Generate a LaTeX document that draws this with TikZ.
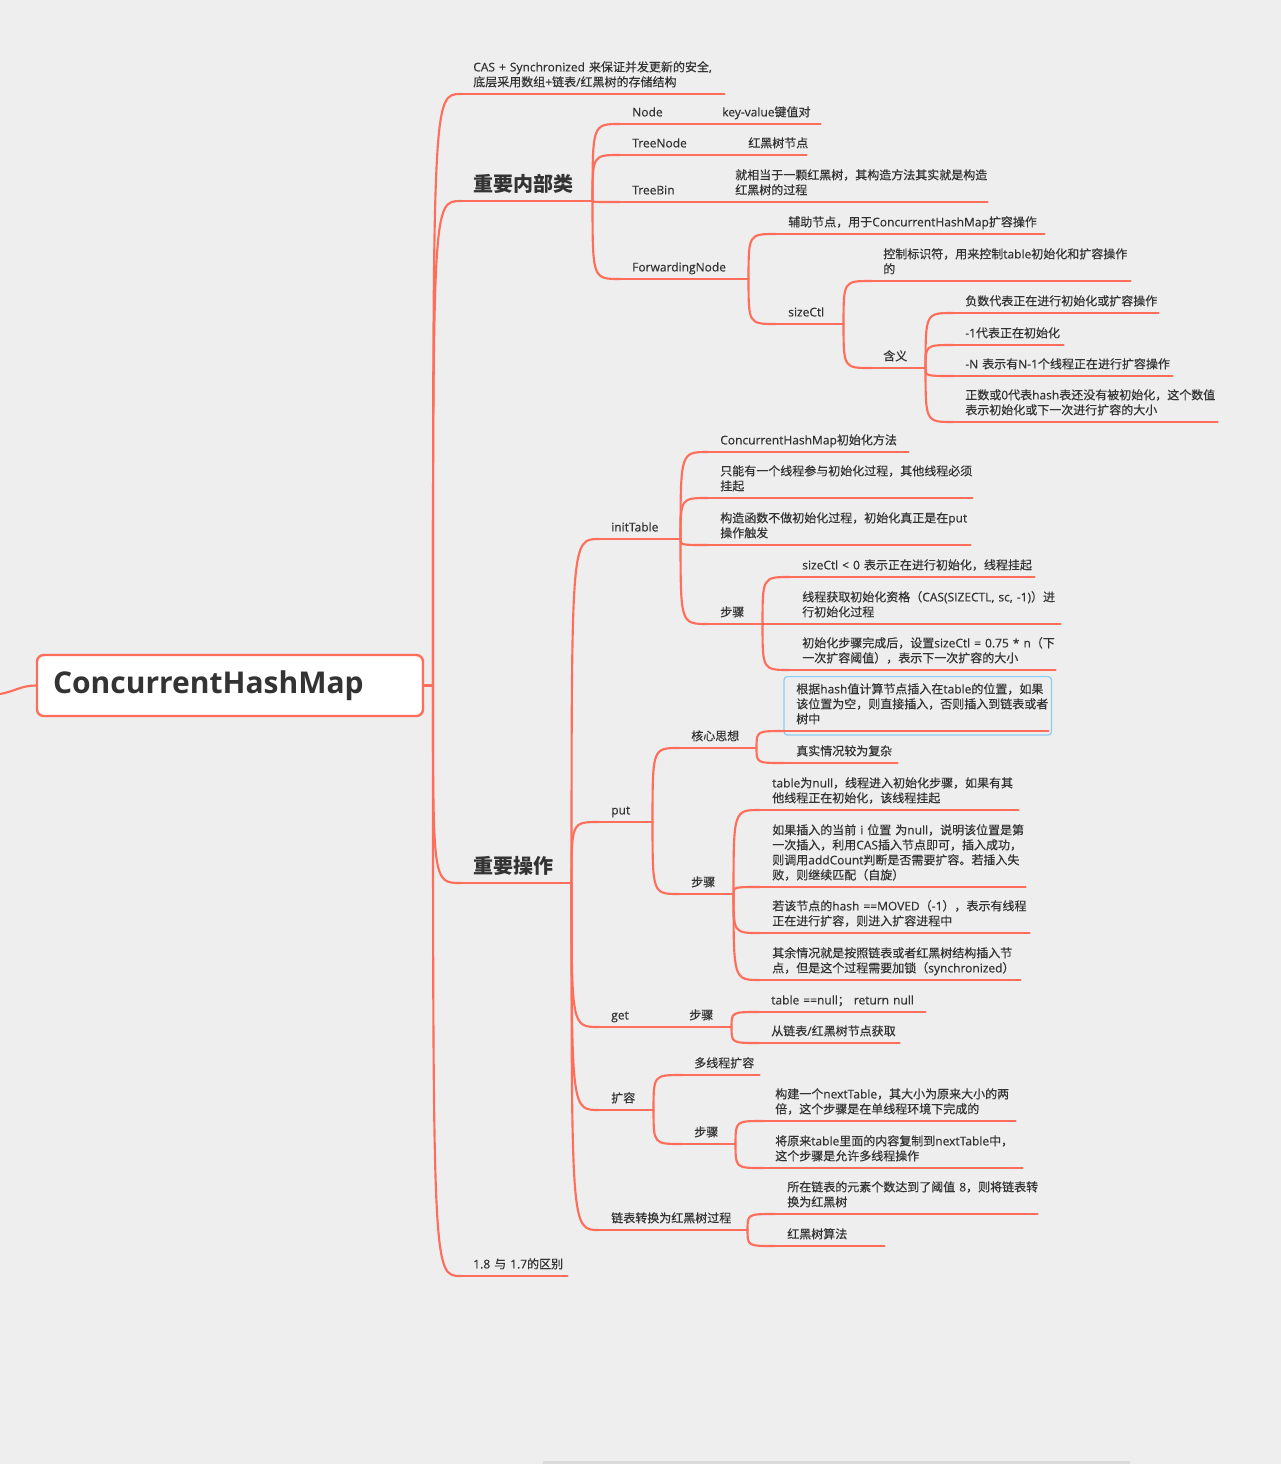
\documentclass[tikz,border=0pt]{standalone}
\usepackage{fontspec}
\setmainfont{Open Sans}[UprightFeatures={FakeBold=0.35}]
\newfontfamily\cjkfont{Noto Sans CJK SC}[UprightFeatures={FakeBold=0.35}]
% runs of CJK characters switch to the CJK font
\XeTeXinterchartokenstate=1
\newXeTeXintercharclass\cjkclass
\newcount\cjkcode
\newcommand\markcjk[2]{\cjkcode=#1\relax
  \loop\XeTeXcharclass\cjkcode=\cjkclass
  \ifnum\cjkcode<#2\relax\advance\cjkcode by 1\repeat}
\markcjk{"3000}{"303F}
\markcjk{"4E00}{"9FFF}
\markcjk{"FF00}{"FFEF}
\XeTeXinterchartoks 0 \cjkclass = {\begingroup\cjkfont}
\XeTeXinterchartoks 4095 \cjkclass = {\begingroup\cjkfont}
\XeTeXinterchartoks \cjkclass 0 = {\endgroup}
\XeTeXinterchartoks \cjkclass 4095 = {\endgroup}

\definecolor{branchred}{RGB}{255,110,90}
\definecolor{paper}{RGB}{238,238,238}
\definecolor{ink}{RGB}{51,51,51}
\definecolor{pickblue}{RGB}{140,205,245}
\definecolor{bargrey}{RGB}{218,218,218}

\tikzset{
  branch/.style={draw=branchred, line width=1.6pt, line cap=round},
  topic/.style={anchor=south west, xshift=9pt, inner xsep=0pt, inner ysep=2.5pt,
    align=left, text=ink, font=\fontsize{9}{11.25}\selectfont,
    execute at end node={\rule[-3pt]{0pt}{1pt}}},
  bigtopic/.style={topic, inner ysep=4pt, font=\fontsize{15}{18}\selectfont\bfseries},
  w/.code={\pgfmathsetlengthmacro\topicwidth{(#1-12)*0.75pt}\tikzset{text width=\topicwidth}},
}

\begin{document}
\begin{tikzpicture}[x=0.75pt, y=-0.75pt]
  \useasboundingbox (0,0) rectangle (1281,1464);
  \fill[paper] (0,0) rectangle (1281,1464);
  \fill[bargrey] (543,1461) rectangle (1130,1464);

  % central topic
  \node[draw=branchred, line width=1.8pt, rounded corners=5pt, fill=white,
        text width=265.5pt, inner xsep=12pt, minimum height=45.75pt, align=left,
        text=ink, font=\fontsize{22.5}{26}\selectfont\bfseries] (root) at (230,685.5) {ConcurrentHashMap};
  \coordinate (hub) at (433,685.5);
  \coordinate (offstage) at (0,694);
  \draw[branch] (root.east) -- (hub);
  \draw[branch] (root.west) to[out=180, in=10] (offstage);

  % main branches
  \node[topic, w=263] (cas) at (461,94) {CAS~+~Synchronized~来保证并发更新的安全,\\底层采用数组+链表/红黑树的存储结构};
  \node[bigtopic, w=131] (inner) at (461,201) {重要内部类};
  \node[bigtopic, w=110] (ops) at (461,883) {重要操作};
  \node[topic, w=106] (diff) at (461,1276) {1.8~与~1.7的区别};

  % inner classes
  \node[topic, w=62] (nodecls) at (620,124) {Node};
  \node[topic, w=110] (kv) at (710,124) {key-value键值对};
  \node[topic, w=88] (treenode) at (620,155) {TreeNode};
  \node[topic, w=70] (rbnode) at (736,155) {红黑树节点};
  \node[topic, w=75] (treebin) at (620,202) {TreeBin};
  \node[topic, w=264] (tbdesc) at (723,202) {就相当于一颗红黑树，其构造方法其实就是构造\\红黑树的过程};
  \node[topic, w=128] (fwd) at (620,279) {ForwardingNode};
  \node[topic, w=268] (fwdhelp) at (776,234) {辅助节点，用于ConcurrentHashMap扩容操作};
  \node[topic, w=67] (sizectl) at (776,324) {sizeCtl};
  \node[topic, w=259] (ctlmean) at (871,281) {控制标识符，用来控制table初始化和扩容操作\\的};
  \node[topic, w=54] (hanyi) at (871,368) {含义};
  \node[topic, w=205] (neg) at (953,313) {负数代表正在进行初始化或扩容操作};
  \node[topic, w=110] (minus1) at (953,345) {-1代表正在初始化};
  \node[topic, w=219] (minusn) at (953,376) {-N~表示有N-1个线程正在进行扩容操作};
  \node[topic, w=264] (pos) at (953,422) {正数或0代表hash表还没有被初始化，这个数值\\表示初始化或下一次进行扩容的大小};

  % operations
  \node[topic, w=81] (init) at (599,539) {initTable};
  \node[topic, w=200] (i1) at (708,452) {ConcurrentHashMap初始化方法};
  \node[topic, w=264] (i2) at (708,498) {只能有一个线程参与初始化过程，其他线程必须\\挂起};
  \node[topic, w=262] (i3) at (708,545) {构造函数不做初始化过程，初始化真正是在put\\操作触发};
  \node[topic, w=54] (isteps) at (708,624) {步骤};
  \node[topic, w=244] (s1) at (790,577) {sizeCtl~<~0~表示正在进行初始化，线程挂起};
  \node[topic, w=270] (s2) at (790,624) {线程获取初始化资格（CAS(SIZECTL,~sc,~-1)）进\\行初始化过程};
  \node[topic, w=265] (s3) at (790,670) {初始化步骤完成后，设置sizeCtl~=~0.75~*~n（下\\一次扩容阈值），表示下一次扩容的大小};

  \node[topic, w=53] (put) at (599,822) {put};
  \node[topic, w=77] (core) at (679,748) {核心思想};
  \node[topic, w=264] (c1) at (784,731) {根据hash值计算节点插入在table的位置，如果\\该位置为空，则直接插入，否则插入到链表或者\\树中};
  \node[topic, w=113] (c2) at (784,763) {真实情况较为复杂};
  \node[topic, w=54] (psteps) at (679,894) {步骤};
  \node[topic, w=258] (p1) at (760,810) {table为null，线程进入初始化步骤，如果有其\\他线程正在初始化，该线程挂起};
  \node[topic, w=265] (p2) at (760,887) {如果插入的当前~i~位置~为null，说明该位置是第\\一次插入，利用CAS插入节点即可，插入成功，\\则调用addCount判断是否需要扩容。若插入失\\败，则继续匹配（自旋）};
  \node[topic, w=269] (p3) at (760,933) {若该节点的hash~==MOVED（-1），表示有线程\\正在进行扩容，则进入扩容进程中};
  \node[topic, w=260] (p4) at (760,980) {其余情况就是按照链表或者红黑树结构插入节\\点，但是这个过程需要加锁（synchronized）};

  \node[topic, w=50] (get) at (599,1027) {get};
  \node[topic, w=54] (gsteps) at (677,1027) {步骤};
  \node[topic, w=166] (g1) at (759,1012) {table~==null；~return~null};
  \node[topic, w=140] (g2) at (759,1043) {从链表/红黑树节点获取};

  \node[topic, w=54] (resize) at (599,1110) {扩容};
  \node[topic, w=77] (r1) at (682,1075) {多线程扩容};
  \node[topic, w=53] (rsteps) at (682,1144) {步骤};
  \node[topic, w=252] (r2) at (763,1121) {构建一个nextTable，其大小为原来大小的两\\倍，这个步骤是在单线程环境下完成的};
  \node[topic, w=259] (r3) at (763,1168) {将原来table里面的内容复制到nextTable中，\\这个步骤是允许多线程操作};

  \node[topic, w=148] (treeify) at (599,1230) {链表转换为红黑树过程};
  \node[topic, w=262] (t1) at (775,1214) {所在链表的元素个数达到了阈值~8，则将链表转\\换为红黑树};
  \node[topic, w=109] (t2) at (775,1246) {红黑树算法};

  % selected topic
  \draw[pickblue, line width=0.9pt, rounded corners=2.5pt]
    ([xshift=-9pt,yshift=-3pt]c1.south west) rectangle ([xshift=2.25pt,yshift=2.25pt]c1.north east);

  % underlines
  \foreach \n in {cas,inner,ops,diff,nodecls,kv,treenode,rbnode,treebin,tbdesc,fwd,fwdhelp,
      sizectl,ctlmean,hanyi,neg,minus1,minusn,pos,init,i1,i2,i3,isteps,s1,s2,s3,put,core,c1,c2,
      psteps,p1,p2,p3,p4,get,gsteps,g1,g2,resize,r1,rsteps,r2,r3,treeify,t1,t2}
    \draw[branch] ([xshift=-9pt]\n.south west) -- (\n.south east);

  % connectors
  \foreach \up/\kid in {hub/cas, hub/inner, hub/ops, hub/diff,
      inner.south east/nodecls, inner.south east/treenode, inner.south east/treebin, inner.south east/fwd,
      nodecls.south east/kv, treenode.south east/rbnode, treebin.south east/tbdesc,
      fwd.south east/fwdhelp, fwd.south east/sizectl,
      sizectl.south east/ctlmean, sizectl.south east/hanyi,
      hanyi.south east/neg, hanyi.south east/minus1, hanyi.south east/minusn, hanyi.south east/pos,
      ops.south east/init, ops.south east/put, ops.south east/get, ops.south east/resize, ops.south east/treeify,
      init.south east/i1, init.south east/i2, init.south east/i3, init.south east/isteps,
      isteps.south east/s1, isteps.south east/s2, isteps.south east/s3,
      put.south east/core, put.south east/psteps,
      core.south east/c1, core.south east/c2,
      psteps.south east/p1, psteps.south east/p2, psteps.south east/p3, psteps.south east/p4,
      get.south east/gsteps, gsteps.south east/g1, gsteps.south east/g2,
      resize.south east/r1, resize.south east/rsteps,
      rsteps.south east/r2, rsteps.south east/r3,
      treeify.south east/t1, treeify.south east/t2}
    \draw[branch] (\up) .. controls (\up |- \kid.south) and (\up |- \kid.south) .. ([xshift=-9pt]\kid.south west);
\end{tikzpicture}
\end{document}
